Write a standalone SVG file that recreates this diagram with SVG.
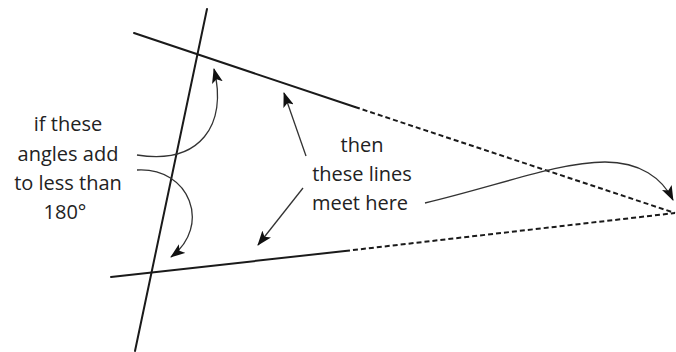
<svg xmlns="http://www.w3.org/2000/svg" width="676" height="352" viewBox="0 0 676 352">
<defs>
<marker id="ah" viewBox="0 0 15 11" refX="14" refY="5.5" markerWidth="15" markerHeight="11" markerUnits="userSpaceOnUse" orient="auto">
<path d="M0,0 L15,5.5 L0,11 L3.5,5.5 Z" fill="#111"/>
</marker>
<style>
.ln{stroke:#1a1a1a;stroke-width:2;fill:none;stroke-linecap:round}
.dash{stroke:#1a1a1a;stroke-width:2;fill:none;stroke-dasharray:5 3}
.ar{stroke:#333;stroke-width:1.3;fill:none;marker-end:url(#ah)}
text{font-family:"Open Sans","Noto Sans",sans-serif;font-size:20px;fill:#222;text-anchor:middle}
</style>
</defs>
<rect width="676" height="352" fill="#fff"/>
<g id="lines">
<path class="ln" d="M207,9 L135,351"/>
<path class="ln" d="M134,33 L355,107"/>
<path class="dash" d="M355,107 L675,213"/>
<path class="ln" d="M111,277 L345,251"/>
<path class="dash" d="M345,251 L675,213"/>
</g>
<g id="connectors">
<path class="ar" d="M137,155 C200,165 228,125 214,69"/>
<path class="ar" d="M137,170 C190,167 212,226 171,257"/>
<path class="ar" d="M306,156 L284,93"/>
<path class="ar" d="M303,188 L258,245"/>
<path class="ar" d="M425,203 C500,185 560,162 605,162 C640,162 662,178 673,200"/>
</g>
<g id="label-left">
<text x="68" y="131">if these</text>
<text x="68" y="161">angles add</text>
<text x="68" y="190">to less than</text>
<text x="65" y="219">180°</text>
</g>
<g id="label-right">
<text x="362" y="152">then</text>
<text x="362" y="181">these lines</text>
<text x="360" y="210">meet here</text>
</g>
</svg>
